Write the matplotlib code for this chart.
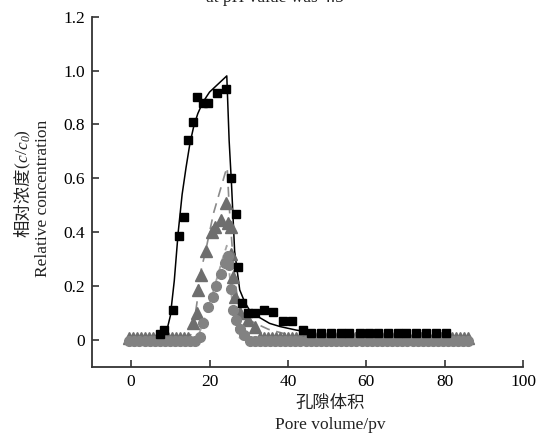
import matplotlib
matplotlib.use("Agg")
import matplotlib.pyplot as plt

SERIF = "Liberation Serif"
CJK = "Noto Sans CJK SC"

# Measured breakthrough data (pore volume, relative concentration)
sq_x = [7.3, 8.5, 10.8, 12.1, 13.4, 14.5, 15.8, 16.9, 18.3, 19.6, 21.9, 24.3,
        25.6, 26.7, 27.2, 28.3, 29.8, 31.5, 33.8, 36.2, 38.7, 41.1, 43.8,
        46.0, 48.5, 51.1, 53.6, 55.7, 58.3, 60.8, 63.0, 65.5, 68.0, 70.2,
        72.8, 75.3, 77.8, 80.4]
sq_y = [0.022, 0.037, 0.11, 0.386, 0.455, 0.742, 0.81, 0.90, 0.88, 0.878,
        0.918, 0.93, 0.60, 0.466, 0.272, 0.136, 0.102, 0.102, 0.110, 0.104,
        0.070, 0.070, 0.037, 0.025, 0.025, 0.025, 0.025, 0.025, 0.025, 0.025,
        0.025, 0.025, 0.025, 0.025, 0.025, 0.025, 0.025, 0.025]

tri_x = [-0.5, 0.5, 1.5, 2.5, 3.5, 4.5, 5.5, 6.5, 7.5, 8.5, 9.5, 10.5, 11.5,
         12.5, 13.5, 14.5, 15.8, 16.7, 17.0, 17.9, 19.2, 20.5, 21.3, 23.0,
         24.1, 24.7, 25.4, 25.6, 26.0, 26.4, 27.7, 29.8, 31.5,
         33, 34, 35, 36, 37, 38, 39, 40, 41, 42, 43, 44, 45, 46, 47, 48, 49,
         50, 51, 52, 53, 54, 55, 56, 57, 58, 59, 60, 61, 62, 63, 64, 65, 66,
         67, 68, 69, 70, 71, 72, 73, 74, 75, 76, 77, 78, 79, 80, 81, 82, 83,
         84, 85, 86]
tri_y = [0.006] * 16 + [0.062, 0.10, 0.186, 0.24, 0.33, 0.40, 0.42, 0.445,
                        0.507, 0.433, 0.42, 0.32, 0.235, 0.16, 0.10, 0.074,
                        0.05] + [0.008] * 54

cir_x = [-0.5, 0.8, 2.1, 3.4, 4.7, 6.0, 7.3, 8.6, 9.9, 11.2, 12.5, 13.8,
         15.1, 16.3, 17.5, 18.3, 19.6, 20.9, 21.7, 23.0, 23.9, 24.6, 25.0,
         25.5, 26.0, 26.8, 27.7, 28.9, 30.2, 31.5, 32.8, 34.1, 35.4, 36.7,
         38.0, 39.3, 40.6, 41.9, 43.2, 44.5, 45.8, 47.1, 48.4, 49.7, 51.0,
         52.3, 53.6, 54.9, 56.2, 57.5, 58.8, 60.1, 61.4, 62.7, 64.0, 65.3,
         66.6, 67.9, 69.2, 70.5, 71.8, 73.1, 74.4, 75.7, 77.0, 78.3, 79.6,
         80.9, 82.2, 83.5, 84.8, 86.0]
cir_y = [-0.003] * 14 + [0.012, 0.062, 0.124, 0.16, 0.20, 0.245, 0.285,
                         0.31, 0.278, 0.19, 0.11, 0.074, 0.04, 0.02] + [-0.003] * 44

# Model curves
fit1_x = [0, 6, 8, 9, 10, 11, 12, 13, 14, 15, 16, 17, 18, 19, 20, 24.4,
          24.7, 25.0, 25.6, 26.4, 27.7, 29.0, 30.2, 32.0, 35.3, 38.0, 42.1, 46.0]
fit1_y = [0, 0, 0.008, 0.03, 0.09, 0.22, 0.40, 0.54, 0.64, 0.73, 0.795,
          0.84, 0.873, 0.898, 0.92, 0.98, 0.86, 0.74, 0.58, 0.33, 0.186,
          0.14, 0.111, 0.09, 0.062, 0.05, 0.037, 0.028]

fit2_x = [13.5, 15, 16, 17, 17.5, 18, 19, 20, 21, 22, 23, 24, 24.5, 25,
          25.5, 26, 26.5, 27.2, 28, 29, 30, 32, 35, 40]
fit2_y = [0, 0.01, 0.06, 0.16, 0.235, 0.27, 0.33, 0.40, 0.47, 0.52, 0.57,
          0.62, 0.64, 0.50, 0.40, 0.30, 0.22, 0.15, 0.11, 0.09, 0.075, 0.06,
          0.04, 0.02]

fit3_x = [15.5, 16.5, 17.5, 18.5, 19.5, 20.5, 21.5, 22.5, 23.5, 24.4, 25.0,
          25.5, 26.0, 26.5, 27.0, 27.6, 28.5]
fit3_y = [0, 0.005, 0.03, 0.07, 0.11, 0.16, 0.21, 0.26, 0.31, 0.35, 0.26,
          0.18, 0.11, 0.06, 0.03, 0.01, 0]

x_ticks = [0, 20, 40, 60, 80, 100]
y_ticks = [0, 0.2, 0.4, 0.6, 0.8, 1.0, 1.2]
y_ticklabels = ["0", "0.2", "0.4", "0.6", "0.8", "1.0", "1.2"]

W, H = 549, 438
fig = plt.figure(figsize=(W / 100, H / 100), dpi=100)
ax = fig.add_axes([92 / W, 1 - 367 / H, (523 - 92) / W, (367 - 16.6) / H])

ax.plot(fit1_x, fit1_y, color="black", lw=1.1, zorder=2)
ax.plot(fit2_x, fit2_y, color="#8a8a8a", lw=1.2, ls=(0, (6, 4)), zorder=2)
ax.plot(fit3_x, fit3_y, color="#a5a5a5", lw=1.3, ls=(0, (3, 3)), zorder=2)

ax.plot(tri_x, tri_y, ls="none", marker="^", ms=8, color="#6e6e6e",
        mec="#6e6e6e", zorder=3)
ax.plot(cir_x, cir_y, ls="none", marker="o", ms=7, color="#828282",
        mec="#828282", zorder=4)
ax.plot(sq_x, sq_y, ls="none", marker="s", ms=6.2, color="black",
        mec="black", zorder=5)

ax.set_xlim(-10, 100)
ax.set_ylim(-0.1, 1.2)
ax.set_xticks(x_ticks)
ax.set_yticks(y_ticks)
ax.set_yticklabels(y_ticklabels)
for s in ("top", "right"):
    ax.spines[s].set_visible(False)
for s in ("left", "bottom"):
    ax.spines[s].set_linewidth(1.3)
    ax.spines[s].set_color("#333333")
ax.tick_params(direction="in", length=5, width=1.2, color="#333333",
               labelsize=12.5, pad=5)
for lab in ax.get_xticklabels() + ax.get_yticklabels():
    lab.set_fontfamily(SERIF)

# Axis titles
fig.text(330 / W, 1 - 403 / H, "孔隙体积", family=[CJK], fontsize=12.5,
         ha="center", va="center", color="#222222")
fig.text(330 / W, 1 - 425 / H, "Pore volume/pv", family=SERIF, fontsize=12.5,
         ha="center", va="center", color="#222222")
fig.text(43 / W, 1 - 198 / H, "Relative concentration", family=SERIF,
         fontsize=12.5, rotation=90, ha="center", va="center", color="#222222")

# Chinese y label with italic c/c0, built piece by piece along the rotated line
fig.canvas.draw()
renderer = fig.canvas.get_renderer()
pieces = [("相对浓度", dict(family=[CJK], fontsize=12.5), 0),
          ("(", dict(family=SERIF, fontsize=12.5), 0),
          ("c", dict(family=SERIF, style="italic", fontsize=12.5), 0),
          ("/", dict(family=SERIF, fontsize=12.5), 0),
          ("c", dict(family=SERIF, style="italic", fontsize=12.5), 0),
          ("0", dict(family=SERIF, style="italic", fontsize=8.5), 3.5),
          (")", dict(family=SERIF, fontsize=12.5), 0)]
y_px = 237.0
x_px = 23.0
for txt, kw, shift in pieces:
    t = fig.text((x_px + shift) / W, 1 - y_px / H, txt, rotation=90,
                 ha="center", va="bottom", color="#222222", **kw)
    bb = t.get_window_extent(renderer)
    y_px -= bb.height

# Caption line running off the top edge
fig.text(275 / W, 1 - 2.5 / H, "at pH value was 4.5", family=SERIF,
         fontsize=12.5, ha="center", va="baseline", color="#222222")

fig.savefig("out.png", dpi=100)
